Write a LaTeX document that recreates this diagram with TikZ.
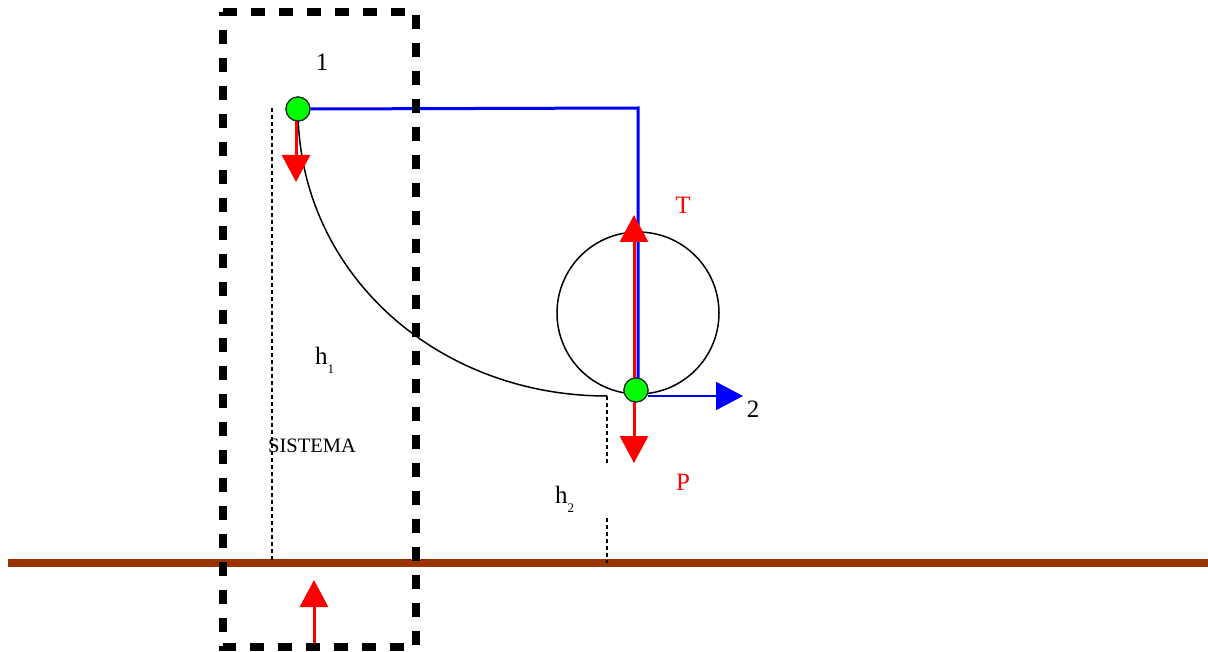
\documentclass[tikz,border=0pt]{standalone}
\usepackage{fontspec}
\setmainfont{Liberation Serif}
\usetikzlibrary{arrows.meta}
\definecolor{groundc}{RGB}{153,51,0}
\definecolor{ptgreen}{RGB}{0,255,0}
\tikzset{
  lbl/.style={font=\fontsize{25}{30}\selectfont, inner sep=0pt},
  redlbl/.style={lbl, text=red},
  pt/.style={circle, draw=black!85, line width=1.2pt, fill=ptgreen, minimum size=24pt, inner sep=0pt},
  redarrow/.style={draw=red, line width=3pt, -{Triangle[width=28pt,length=27pt]}, red},
  bluearrow/.style={draw=blue, line width=2pt, -{Triangle[width=28pt,length=27pt]}, blue},
  guide/.style={line width=1.6pt, dash pattern=on 4pt off 3pt},
  sysbox/.style={line width=8pt, dash pattern=on 14pt off 14pt},
}
\begin{document}
\begin{tikzpicture}[x=1pt,y=-1pt]
\useasboundingbox (0,0) rectangle (1208,652);
% ground
\coordinate (g0) at (8,563);
\coordinate (g1) at (1208,563);
\draw[groundc, line width=8pt] (g0) -- (g1);
% coordinates
\coordinate (corner) at (638,108);
\coordinate (curveend) at (607,396);
\coordinate (d1a) at (272,108);
\coordinate (d1b) at (272,563);
\coordinate (d2a) at (607,396);
\coordinate (d2b) at (607,465);
\coordinate (d3a) at (607,518);
\coordinate (d3b) at (607,563);
% big circle
\node[circle, draw=black, line width=1.5pt, minimum size=162pt, inner sep=0pt] (loop) at (638,313) {};
% guides
\draw[guide] (d1a) -- (d1b);
\draw[guide] (d2a) -- (d2b);
\draw[guide] (d3a) -- (d3b);
% points (placed first for naming)
\node[pt] (p1) at (298,109) {};
\node[pt] (p2) at (636,390) {};
% track curve
\draw[line width=1.5pt] (p1.center) .. controls (298,272) and (436,396) .. (curveend);
% blue string
\draw[blue, line width=3pt] (p1.east) -- (corner) -- (638,378);
% red forces
\coordinate (t1) at (296,182);
\coordinate (tT) at (634,215);
\coordinate (tP) at (634,463);
\coordinate (tv) at (743,396);
\coordinate (tb) at (314,580);
\coordinate (bb) at (314,643);
\draw[redarrow] (296,121) -- (t1);
\draw[redarrow] (634,378) -- (tT);
\draw[redarrow] (634,402) -- (tP);
\draw[bluearrow] (648,396) -- (tv);
\draw[redarrow] (bb) -- (tb);
% redraw points on top
\node[pt] at (p1) {};
\node[pt] at (p2) {};
% system box
\draw[sysbox] (223,12) -- (416,12) -- (416,647) -- (223,647) -- cycle;
% labels
\node[lbl] (l1) at (322,62) {1};
\node[lbl, anchor=base west] (lh1) at (315,365) {h\raisebox{-9pt}{\fontsize{13}{15}\selectfont 1}};
\node[inner sep=0pt, font=\fontsize{20.5}{24}\selectfont] (lsys) at (312,446) {SISTEMA};
\node[lbl, anchor=base west] (lh2) at (555,503) {h\raisebox{-9pt}{\fontsize{13}{15}\selectfont 2}};
\node[redlbl] (lT) at (683,205) {T};
\node[redlbl] (lP) at (683,482) {P};
\node[lbl] (l2) at (753,409) {2};
\end{tikzpicture}
\end{document}
